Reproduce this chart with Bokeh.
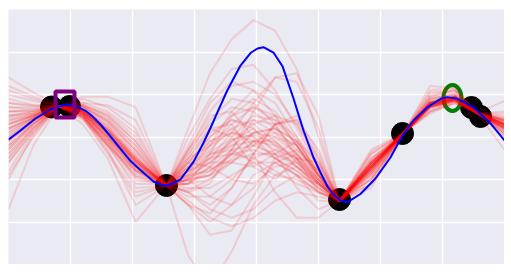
from bokeh.plotting import figure
from bokeh.models import Grid, FixedTicker
from bokeh.embed import file_html
from bokeh.resources import INLINE

# True function (blue curve)
blue_x = [0.000, 0.194, 0.435, 0.677, 0.806, 0.952, 1.081, 1.242, 1.355, 1.484, 1.645, 1.806,
          1.968, 2.081, 2.339, 2.452, 2.565,
          2.774, 2.984, 3.145, 3.258, 3.371, 3.532, 3.742, 3.903, 4.016, 4.113, 4.274, 4.419,
          4.597, 4.758, 4.919, 5.032, 5.145, 5.242, 5.355, 5.468, 5.677, 5.919, 6.161, 6.355,
          6.532, 6.758, 6.968, 7.081, 7.242, 7.500, 7.774, 8.000]
blue_y = [-0.059, 0.153, 0.435, 0.647, 0.718, 0.765, 0.734, 0.616, 0.485, 0.294, 0.012, -0.281,
          -0.567, -0.718, -1.047, -1.118, -1.141,
          -1.000, -0.586, -0.136, 0.212, 0.584, 1.106, 1.682, 1.976, 2.082, 2.113, 1.988, 1.666,
          0.906, 0.153, -0.482, -0.835, -1.165, -1.353, -1.494, -1.534, -1.341, -0.977, -0.482, 0.035,
          0.388, 0.699, 0.899, 0.938, 0.899, 0.699, 0.318, -0.082]

# Observed points
obs_x = [0.694, 0.984, 2.548, 5.339, 6.355, 7.468, 7.613]
obs_y = [0.706, 0.718, -1.141, -1.471, 0.082, 0.694, 0.482]

# Highlighted points
square_x = [0.911]
square_y = [0.765]
ring_x = [7.161]
ring_y = [0.918]

# Posterior samples (red)
sample_x = [0.0, 0.4, 0.8, 1.2, 1.6, 2.05, 2.55, 2.9, 3.25, 3.6, 3.95, 4.3, 4.65, 5.0,
            5.34, 5.85, 6.35, 6.8, 7.2, 7.55, 8.0]
samples = [
    [1.40, 1.05, 0.74, 0.40, -0.20, -0.90, -1.13, 0.20, 1.50, 2.30, 2.75, 2.50, 1.60, 0.00, -1.50, -1.10, 0.06, 1.10, 1.15, 0.58, 0.40],
    [0.70, 0.70, 0.73, 0.45, -0.10, -0.95, -1.15, -0.30, 0.60, 1.20, 1.30, 1.00, 0.30, -0.60, -1.48, -1.00, 0.05, 1.00, 1.10, 0.57, 0.05],
    [-0.30, 0.30, 0.72, 0.70, 0.40, -0.30, -1.14, -1.50, -1.90, -2.10, -1.90, -1.50, -1.30, -1.40, -1.52, -0.40, 0.07, 0.60, 0.80, 0.56, 0.40],
    [0.30, 0.50, 0.71, 0.60, 0.10, -0.70, -1.12, -0.20, 0.80, 1.30, 1.10, 0.50, -0.20, -0.90, -1.50, -0.80, 0.04, 0.85, 0.95, 0.58, 0.20],
    [-0.80, 0.10, 0.73, 0.75, 0.55, 0.00, -1.16, -1.60, -2.30, -2.20, -1.40, -0.50, -0.30, -0.80, -1.49, -0.60, 0.06, 0.70, 0.90, 0.57, 0.30],
    [1.00, 0.85, 0.74, 0.45, -0.20, -1.10, -1.13, -0.50, 0.20, 0.30, -0.40, -1.30, -1.90, -1.90, -1.50, -0.30, 0.08, 0.55, 0.80, 0.55, 0.60],
    [0.10, 0.45, 0.72, 0.55, 0.00, -0.70, -1.14, -0.80, -0.40, -0.20, -0.10, -0.20, -0.50, -1.00, -1.51, -0.70, 0.06, 0.75, 0.90, 0.57, 0.25],
    [-1.70, -0.20, 0.70, 0.90, 0.70, 0.20, -1.15, -2.80, -3.50, -2.70, -1.60, -0.90, -0.70, -1.10, -1.50, -0.90, 0.05, 0.90, 1.00, 0.58, 0.10],
    [0.50, 0.60, 0.73, 0.50, -0.30, -1.60, -1.14, -0.30, 0.30, 0.70, 0.60, 0.20, -0.30, -0.90, -1.49, -0.50, 0.07, 0.65, 0.85, 0.56, 0.35],
    [-0.10, 0.35, 0.72, 0.65, 0.30, -0.40, -1.13, -1.30, -1.10, -0.30, 0.40, 0.30, -0.50, -1.30, -1.50, -0.75, 0.06, 0.80, 0.95, 0.57, 0.20],
    [1.20, 0.95, 0.74, 0.30, -0.50, -2.00, -1.12, -1.00, -0.90, -0.30, 0.60, 1.40, 1.50, 0.50, -1.50, -1.20, 0.04, 1.20, 1.15, 0.58, -0.30],
    [-0.50, 0.20, 0.71, 0.80, 0.60, 0.10, -1.15, -1.00, -1.40, -1.60, -1.20, -0.60, -0.40, -0.90, -1.51, -0.55, 0.07, 0.70, 0.85, 0.56, 0.45],
    [0.20, 0.50, 0.72, 0.55, 0.05, -0.55, -1.14, -0.70, -0.10, 0.20, -0.20, 0.30, 0.50, -0.40, -1.50, -0.85, 0.06, 0.80, 0.90, 0.57, 0.30],
    [0.90, 0.75, 0.73, 0.50, -0.20, -0.80, -1.13, -0.90, -0.80, -0.40, 0.10, 0.20, -0.10, -0.80, -1.49, -0.65, 0.05, 0.75, 0.90, 0.57, 0.25],
    [-0.30, 0.30, 0.72, 0.60, 0.20, -0.45, -1.14, -0.30, 0.50, 0.60, 0.00, -0.50, -0.80, -1.20, -1.50, -0.70, 0.06, 0.70, 0.88, 0.57, 0.40],
    [0.60, 0.65, 0.73, 0.45, -0.35, -1.30, -1.15, -1.30, -1.60, -1.20, -0.40, 0.30, 0.40, -0.50, -1.50, -0.95, 0.05, 0.95, 1.05, 0.58, 0.10],
    [-1.00, 0.05, 0.71, 0.70, 0.40, -0.20, -1.14, -0.50, -0.20, 0.30, 0.70, 0.50, -0.20, -1.00, -1.50, -0.60, 0.07, 0.75, 0.90, 0.57, 0.30],
    [0.40, 0.55, 0.72, 0.60, 0.10, -0.60, -1.13, -1.10, -0.70, 0.00, 0.50, 0.40, 0.00, -0.70, -1.49, -0.80, 0.06, 0.80, 0.95, 0.57, 0.20],
    [-0.60, 0.15, 0.72, 0.80, 0.75, 0.40, -1.14, -1.60, -2.00, -1.60, -0.90, -0.60, -0.90, -1.50, -1.51, -0.35, 0.07, 0.60, 0.80, 0.56, 0.55],
    [0.00, 0.40, 0.73, 0.50, -0.20, -1.20, -1.15, 0.00, 0.90, 1.60, 1.70, 1.10, 0.20, -0.70, -1.50, -1.00, 0.05, 0.90, 1.00, 0.58, 0.15],
    [1.10, 0.90, 0.74, 0.55, 0.00, -0.65, -1.13, -0.80, -0.20, 0.60, 1.10, 0.80, 0.00, -0.90, -1.50, -0.70, 0.06, 0.80, 0.95, 0.57, 0.30],
    [-0.20, 0.30, 0.72, 0.70, 0.35, -0.35, -1.14, -1.00, -0.90, -0.40, 0.10, 0.20, -0.10, -0.80, -1.50, -0.75, 0.06, 0.75, 0.90, 0.57, 0.35],
    [0.30, 0.50, 0.72, 0.45, -0.40, -1.40, -1.14, -0.40, 0.20, 0.00, -0.70, -1.00, -0.50, -0.60, -1.50, -0.90, 0.05, 0.90, 1.00, 0.58, 0.10],
    [-0.40, 0.25, 0.71, 0.65, 0.25, -0.50, -1.13, -1.20, -1.20, -0.90, -0.60, -0.60, -0.90, -1.30, -1.49, -0.60, 0.06, 0.70, 0.85, 0.56, 0.45],
    [0.80, 0.75, 0.73, 0.60, 0.15, -0.55, -1.14, -0.60, -0.70, -1.00, -1.10, -0.70, -0.60, -1.10, -1.51, -0.55, 0.07, 0.70, 0.85, 0.57, 0.50],
    [-0.10, 0.40, 0.72, 0.95, 0.95, 0.70, -1.15, -1.60, -1.80, -1.20, -0.40, 0.30, 0.40, -0.30, -1.50, -1.00, 0.05, 0.95, 1.10, 0.58, 0.00],
    [0.60, 0.60, 0.73, 0.55, 0.00, -0.75, -1.14, -0.60, 0.00, 0.40, 0.20, -0.40, -1.20, -1.70, -1.50, -0.40, 0.07, 0.60, 0.85, 0.56, 0.85],
    [0.20, 0.45, 0.72, 0.60, 0.15, -0.50, -1.14, -1.10, -0.80, -0.40, -0.30, -0.50, -0.80, -1.20, -1.50, -0.65, 0.06, 0.75, 0.90, 0.57, 0.30],
    [-0.90, 0.00, 0.71, 0.75, 0.50, -0.10, -1.13, -1.00, -0.50, 0.10, 0.80, 1.40, 1.30, 0.20, -1.50, -1.10, 0.05, 1.05, 1.10, 0.58, 0.05],
    [0.50, 0.55, 0.72, 0.50, -0.10, -0.85, -1.14, -0.70, -0.30, 0.20, 0.40, 0.10, -0.40, -1.00, -1.50, -0.75, 0.06, 0.80, 0.92, 0.57, 0.25],
    [0.00, 0.40, 0.72, 0.65, 0.20, -0.55, -1.14, -1.30, -1.70, -1.90, -1.70, -1.20, -0.90, -1.10, -1.50, -0.50, 0.06, 0.70, 0.85, 0.56, 0.40],
    [0.40, 0.50, 0.73, 0.55, -0.05, -0.80, -1.13, -0.40, 0.40, 0.90, 0.80, 0.30, -0.40, -1.10, -1.49, -0.70, 0.06, 0.80, 0.95, 0.57, 0.20],
    [-0.20, 0.35, 0.72, 0.60, 0.10, -0.60, -1.14, -0.90, -0.60, -0.60, -0.70, -0.40, -0.10, -0.60, -1.50, -0.85, 0.06, 0.80, 0.95, 0.57, 0.20],
    [0.70, 0.65, 0.72, 0.50, -0.15, -1.00, -1.14, -0.80, -0.60, -0.10, 0.20, -0.20, -0.70, -1.20, -1.50, -0.60, 0.06, 0.70, 0.85, 0.56, 0.40],
    [-0.50, 0.20, 0.72, 0.75, 0.50, -0.10, -1.14, -1.10, -0.40, 0.50, 0.90, 0.60, -0.10, -0.90, -1.50, -0.75, 0.06, 0.80, 0.92, 0.57, 0.25],
    [0.20, 0.45, 0.72, 0.60, 0.10, -0.60, -1.14, -0.80, -0.50, -0.40, -0.50, -0.80, -1.10, -1.30, -1.50, -0.70, 0.06, 0.75, 0.90, 0.57, 0.30],
    [0.30, 0.50, 0.72, 0.58, 0.05, -0.65, -1.14, -0.95, -0.60, -0.20, 0.10, 0.00, -0.40, -1.00, -1.50, -0.70, 0.06, 0.78, 0.92, 0.57, 0.28],
    [-0.10, 0.38, 0.72, 0.62, 0.18, -0.52, -1.14, -0.70, -0.20, 0.10, 0.00, -0.30, -0.70, -1.15, -1.50, -0.75, 0.06, 0.80, 0.93, 0.57, 0.22],
    [0.50, 0.58, 0.73, 0.52, -0.05, -0.78, -1.13, -1.05, -0.90, -0.60, -0.20, 0.00, -0.20, -0.85, -1.50, -0.80, 0.06, 0.82, 0.95, 0.57, 0.18],
    [0.05, 0.42, 0.72, 0.60, 0.12, -0.58, -1.14, -0.50, 0.10, 0.40, 0.30, -0.10, -0.60, -1.10, -1.50, -0.65, 0.06, 0.74, 0.88, 0.57, 0.33],
    [-0.40, 0.22, 0.72, 0.72, 0.35, -0.30, -1.15, -1.25, -1.00, -0.50, -0.10, -0.10, -0.50, -1.10, -1.50, -0.60, 0.07, 0.72, 0.87, 0.57, 0.38],
    [0.80, 0.72, 0.73, 0.48, -0.15, -0.92, -1.13, -0.60, -0.10, 0.10, -0.10, -0.50, -0.90, -1.30, -1.50, -0.62, 0.06, 0.75, 0.90, 0.57, 0.30],
    [0.15, 0.46, 0.72, 0.56, 0.02, -0.68, -1.14, -0.85, -0.50, -0.10, 0.30, 0.50, 0.30, -0.50, -1.50, -0.85, 0.06, 0.85, 0.97, 0.57, 0.15],
    [-0.25, 0.32, 0.72, 0.66, 0.26, -0.45, -1.14, -1.00, -0.70, -0.30, -0.20, -0.40, -0.70, -1.10, -1.50, -0.68, 0.06, 0.77, 0.90, 0.57, 0.28],
    [0.35, 0.52, 0.72, 0.57, 0.08, -0.62, -1.14, -0.75, -0.35, -0.05, 0.05, -0.15, -0.55, -1.05, -1.50, -0.72, 0.06, 0.79, 0.93, 0.57, 0.24],
    [0.60, 0.62, 0.73, 0.52, -0.08, -0.80, -1.14, -0.95, -0.75, -0.55, -0.40, -0.40, -0.60, -1.05, -1.50, -0.70, 0.06, 0.76, 0.90, 0.57, 0.30],
    [-0.60, 0.12, 0.71, 0.74, 0.45, -0.20, -1.14, -1.40, -1.40, -1.00, -0.50, -0.30, -0.50, -1.00, -1.50, -0.62, 0.06, 0.72, 0.87, 0.57, 0.36],
    [0.10, 0.44, 0.72, 0.60, 0.14, -0.55, -1.14, -0.60, 0.00, 0.50, 0.70, 0.40, -0.20, -0.90, -1.50, -0.78, 0.06, 0.82, 0.95, 0.57, 0.20],
    [0.45, 0.55, 0.72, 0.54, -0.02, -0.74, -1.14, -0.90, -0.40, -0.30, -0.60, -0.90, -1.00, -1.25, -1.50, -0.64, 0.06, 0.74, 0.88, 0.57, 0.32],
    [-0.05, 0.40, 0.72, 0.62, 0.18, -0.50, -1.14, -1.10, -1.00, -0.60, -0.10, 0.10, -0.20, -0.90, -1.50, -0.70, 0.06, 0.78, 0.91, 0.57, 0.27],
]

x_grid_ticks = [1, 2, 3, 4, 5, 6, 7]
y_grid_ticks = [-2, -1, 0, 1, 2]

p = figure(width=504, height=264, x_range=(0, 8), y_range=(-3, 3),
           output_backend="svg", toolbar_location=None,
           x_axis_location=None, y_axis_location=None,
           min_border_left=8, min_border_right=0, min_border_top=9, min_border_bottom=0)
p.background_fill_color = "#EAEAF2"
p.border_fill_color = "white"
p.outline_line_color = None

xg = Grid(dimension=0, ticker=FixedTicker(ticks=x_grid_ticks), grid_line_color="white", grid_line_width=1.4)
yg = Grid(dimension=1, ticker=FixedTicker(ticks=y_grid_ticks), grid_line_color="white", grid_line_width=1.4)
p.add_layout(xg)
p.add_layout(yg)

p.scatter(obs_x, obs_y, size=22, color="black")
p.ellipse(x=ring_x, y=ring_y, width=18, height=26, width_units="screen", height_units="screen",
          fill_color=None, line_color="green", line_width=4)
p.multi_line(xs=[sample_x] * len(samples), ys=samples, line_color="red", line_alpha=0.13,
             line_width=2, line_join="round")
p.line(blue_x, blue_y, line_color="blue", line_width=2, line_join="round")
p.rect(x=square_x, y=square_y, width=19, height=26, width_units="screen", height_units="screen",
       fill_color=None, line_color="purple", line_width=4)

open("out.html", "w").write(file_html(p, INLINE))
